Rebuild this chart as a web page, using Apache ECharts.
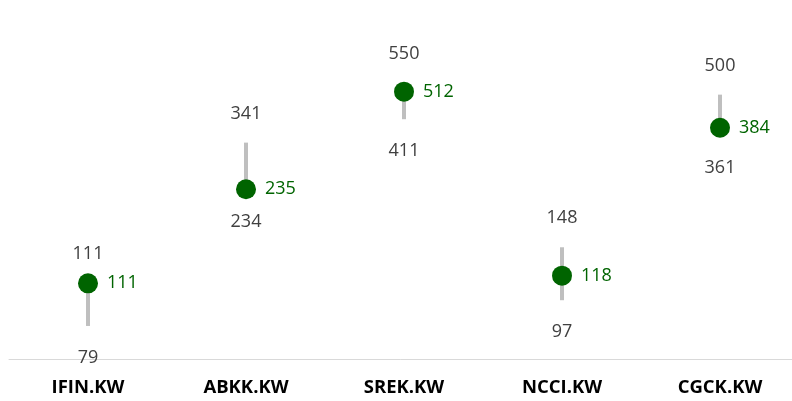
<!DOCTYPE html>
<html>
<head>
<meta charset="utf-8">
<script src="https://cdn.jsdelivr.net/npm/echarts@6/dist/echarts.min.js"></script>
<style>
  html, body { margin: 0; padding: 0; background: #fff; }
  #chart { width: 792px; height: 401px; }
</style>
</head>
<body>
<div id="chart"></div>
<script>
// tickers and price range values (fils)
var tickers = ['IFIN.KW', 'ABKK.KW', 'SREK.KW', 'NCCI.KW', 'CGCK.KW'];
var highValues = [111, 341, 550, 148, 500];
var lowValues = [79, 234, 411, 97, 361];
var lastValues = [111, 235, 512, 118, 384];

var FONT = '"Open Sans", "Noto Sans", sans-serif';

var chart = echarts.init(document.getElementById('chart'));

// gray range line from low to high
var rangeData = [];
for (var i = 0; i < tickers.length; i++) {
  rangeData.push([i, lowValues[i], highValues[i]]);
}

var valueLabel = function (offset) {
  return {
    show: true,
    position: 'inside',
    offset: offset,
    color: '#404040',
    opacity: 1,
    fontFamily: FONT,
    fontSize: 18
  };
};

var option = {
  animation: false,
  grid: {
    left: 9,
    right: -7,
    top: 9,
    bottom: 42,
    outerBoundsMode: 'none',
    containLabel: false
  },
  xAxis: {
    type: 'category',
    data: tickers,
    boundaryGap: true,
    axisTick: {show: false},
    axisLine: {lineStyle: {color: '#d9d9d9', width: 1}},
    axisLabel: {
      color: '#000',
      fontFamily: FONT,
      fontWeight: 'bold',
      fontSize: 18.5,
      margin: 19
    }
  },
  yAxis: {
    type: 'log',
    min: 60.7,
    max: 990,
    show: false,
    splitLine: {show: false}
  },
  series: [
    {
      type: 'custom',
      data: rangeData,
      z: 1,
      silent: true,
      renderItem: function (params, api) {
        var p1 = api.coord([api.value(0), api.value(1)]);
        var p2 = api.coord([api.value(0), api.value(2)]);
        return {
          type: 'line',
          shape: {x1: p1[0], y1: p1[1], x2: p2[0], y2: p2[1]},
          style: {stroke: '#bfbfbf', lineWidth: 4}
        };
      }
    },
    {
      // high labels
      type: 'scatter',
      data: highValues,
      symbolSize: 1,
      itemStyle: {color: 'transparent', opacity: 1},
      z: 0,
      label: valueLabel([0, -29])
    },
    {
      // low labels
      type: 'scatter',
      data: lowValues,
      symbolSize: 1,
      itemStyle: {color: 'transparent', opacity: 1},
      z: 0,
      label: valueLabel([0, 32])
    },
    {
      // last price dots
      type: 'scatter',
      data: lastValues,
      symbolSize: 20,
      z: 3,
      itemStyle: {color: '#006400', opacity: 1},
      label: {
        show: true,
        position: 'right',
        distance: 9,
        color: '#006400',
        opacity: 1,
        fontFamily: FONT,
        fontSize: 18
      }
    }
  ]
};

chart.setOption(option);
</script>
</body>
</html>
